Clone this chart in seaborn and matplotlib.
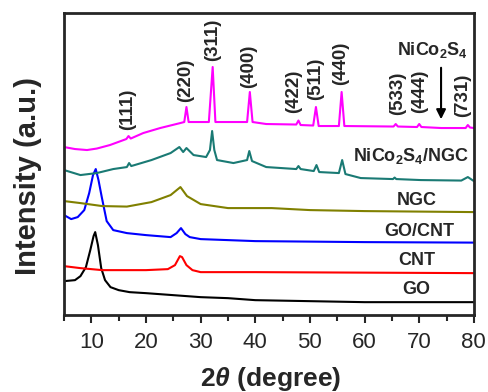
import numpy as np
import pandas as pd
import matplotlib
matplotlib.use("Agg")
import matplotlib.pyplot as plt
import seaborn as sns

# values (2theta in degree, offset intensity in a.u.)
go_x = [5, 7, 8, 9, 9.8, 10.4, 10.7, 11.2, 11.8, 12.5, 13.5, 15, 17, 20, 25, 30, 35, 40, 50, 60, 70, 80]
go_y = [34, 35, 39, 48, 65, 79, 83, 70, 47, 35, 28, 25, 23, 22, 20, 18, 17, 15, 14, 13, 13, 13]

cnt_x = [5, 8, 12, 20, 24, 25.3, 26.2, 26.6, 27.4, 28.5, 30, 40, 60, 80]
cnt_y = [49, 47, 45, 45, 46, 50, 59, 58, 50, 45, 43, 43, 42.5, 42]

gocnt_x = [5, 6.3, 7.5, 8.7, 9.6, 10.3, 10.8, 11.3, 11.9, 12.8, 14, 16.5, 20, 24.5, 25.6, 26.4,
           27.2, 28, 30, 40, 60, 80]
gocnt_y = [100, 96, 98, 105, 122, 140, 146, 135, 118, 94, 85, 82, 80, 78, 82, 87,
           81, 78, 76, 74, 73, 72.5]

ngc_x = [5, 8, 12, 16.5, 21, 24.5, 26.3, 27.5, 30, 35, 43, 50, 60, 80]
ngc_y = [114, 112, 109, 108.5, 113, 120, 128, 119, 111, 107, 107, 105, 104, 103]

ncs_ngc_x = [5, 8, 11, 14, 16.5, 16.9, 17.3, 21, 24.5, 26.1, 26.8, 27.4, 28.7, 31, 31.7, 32.1,
             32.5, 33, 36, 38.5, 38.9, 39.4, 42, 47.5, 47.9, 48.3, 50.7, 51.2, 51.7, 55.3,
             55.9, 56.5, 59.3, 65.2, 65.5, 65.8, 70.3, 77.7, 78.9, 80]
ncs_ngc_y = [145, 140, 142, 146, 148, 152, 149, 155, 162, 168, 163, 167, 160, 158, 165, 184,
             165, 155, 152, 155, 164, 154, 148, 146, 149, 146, 144, 150, 143, 142,
             155, 141, 137, 136, 137.5, 136, 135, 134.5, 138, 134]

ncs_x = [5, 7, 9.2, 11, 13.4, 16.4, 16.8, 17.2, 19.5, 22.6, 26.3, 27.0, 27.4, 27.8, 31.5, 32.2,
         32.7, 38.5, 39.0, 39.5, 42, 47.5, 47.9, 48.3, 50.6, 51.1, 51.6, 55.3, 55.8, 56.3,
         65.3, 65.7, 66.1, 69.6, 70.0, 70.4, 74, 78.5, 78.9, 79.3, 80]
ncs_y = [168, 166, 165, 166.5, 170, 176, 179, 176.5, 182, 187, 192, 193, 208, 193, 193, 248,
         193, 193, 223, 193, 191, 190.5, 194.5, 190, 189.5, 208, 189, 189, 223, 189,
         188.5, 191, 188.5, 188, 191, 188, 187, 187, 190, 187.5, 187]

series_names = ["GO", "CNT", "GO/CNT", "NGC", "NiCo$_2$S$_4$/NGC", "NiCo$_2$S$_4$"]
series_colors = ["#000000", "#FF0000", "#0000FF", "#808000", "#1A7A74", "#FF00FF"]

# sample labels: (x, y)
label_x = [69.4, 69.6, 70, 69.6, 68.5, 72.5]
label_y = [26, 55, 84, 115, 159, 265]

hkl_labels = ["(111)", "(220)", "(311)", "(400)", "(422)", "(511)", "(440)", "(533)", "(444)", "(731)"]
hkl_x = [16.7, 27.2, 32.2, 38.8, 47.0, 51.1, 55.6, 66.1, 70.0, 78.0]
hkl_y = [185, 213, 254, 227, 202, 215, 230, 200, 202, 198]

sns.set_style("ticks")
plt.rcParams['font.family'] = ['Liberation Sans', 'DejaVu Sans']
plt.rcParams['mathtext.fontset'] = 'custom'
plt.rcParams['mathtext.rm'] = 'Liberation Sans:bold'
plt.rcParams['mathtext.it'] = 'Liberation Sans:bold:italic'
plt.rcParams['mathtext.bf'] = 'Liberation Sans:bold:italic'

xs = [go_x, cnt_x, gocnt_x, ngc_x, ncs_ngc_x, ncs_x]
ys = [go_y, cnt_y, gocnt_y, ngc_y, ncs_ngc_y, ncs_y]
frames = []
for name, x, y in zip(series_names, xs, ys):
    frames.append(pd.DataFrame({"two_theta": x, "intensity": y, "sample": name}))
df = pd.concat(frames, ignore_index=True)

fig = plt.figure(figsize=(4.89, 3.92), dpi=100)
ax = fig.add_axes([0.131, 0.196, 0.838, 0.771])

sns.lineplot(data=df, x="two_theta", y="intensity", hue="sample", hue_order=series_names,
             palette=series_colors, estimator=None, sort=False, linewidth=1.5,
             legend=False, ax=ax)

for name, lx, ly in zip(series_names, label_x, label_y):
    ax.text(lx, ly, name, ha="center", va="center", fontsize=13, fontweight="bold")

for lab, hx, hy in zip(hkl_labels, hkl_x, hkl_y):
    ax.text(hx, hy, lab, rotation=90, ha="center", va="bottom", fontsize=13.5, fontweight="bold")

ax.annotate("", xy=(74, 193), xytext=(74, 250),
            arrowprops=dict(arrowstyle="-|>", color="black", lw=1.5, mutation_scale=14))

ax.set_xlim(5, 80)
ax.set_ylim(0, 302)
ax.set_xticks([10, 20, 30, 40, 50, 60, 70, 80])
ax.set_xticks(np.arange(5, 81, 10), minor=True)
ax.set_yticks([])
ax.tick_params(axis="x", which="major", direction="out", length=6, width=1.5, labelsize=16, pad=6)
ax.tick_params(axis="x", which="minor", direction="out", length=4, width=1.5)
for sp in ax.spines.values():
    sp.set_linewidth(2)
    sp.set_visible(True)

ax.set_xlabel(r"2$\mathbf{\theta}$ (degree)", fontsize=19, fontweight="bold")
ax.set_ylabel("Intensity (a.u.)", fontsize=21, fontweight="bold")
ax.xaxis.set_label_coords(0.505, -0.165)
ax.yaxis.set_label_coords(-0.055, 0.46)

fig.savefig("out.png", dpi=100)
